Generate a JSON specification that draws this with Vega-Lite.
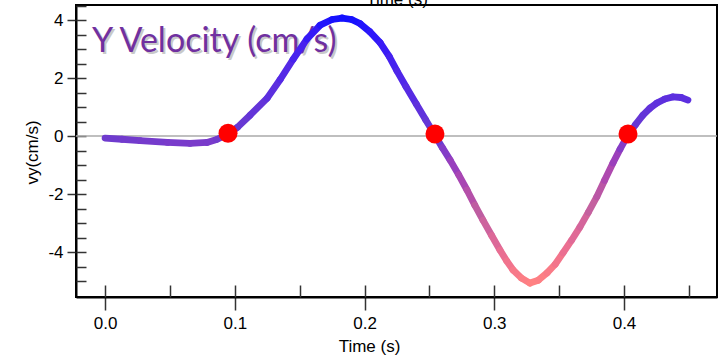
{
  "$schema": "https://vega.github.io/schema/vega-lite/v6.json",
  "autosize": "none",
  "width": 641,
  "height": 292,
  "padding": {"left": 76, "top": 5, "right": 8, "bottom": 61},
  "background": "white",
  "view": {"stroke": "black", "strokeWidth": 2},
  "datasets": {
    "curve": [
      {"t": 0, "vy": -0.07}, {"t": 0.013, "vy": -0.11}, {"t": 0.027, "vy": -0.16}, {"t": 0.048, "vy": -0.22},
      {"t": 0.0655, "vy": -0.25}, {"t": 0.0786, "vy": -0.22}, {"t": 0.086, "vy": -0.12}, {"t": 0.094, "vy": 0.05},
      {"t": 0.102, "vy": 0.3}, {"t": 0.1118, "vy": 0.72}, {"t": 0.125, "vy": 1.31}, {"t": 0.135, "vy": 1.95},
      {"t": 0.145, "vy": 2.65}, {"t": 0.1557, "vy": 3.35}, {"t": 0.1657, "vy": 3.82}, {"t": 0.175, "vy": 4.02},
      {"t": 0.1827, "vy": 4.07}, {"t": 0.19, "vy": 4.02}, {"t": 0.1965, "vy": 3.88}, {"t": 0.204, "vy": 3.6},
      {"t": 0.212, "vy": 3.22}, {"t": 0.219, "vy": 2.75}, {"t": 0.225, "vy": 2.25}, {"t": 0.232, "vy": 1.7},
      {"t": 0.24, "vy": 1.1}, {"t": 0.247, "vy": 0.57}, {"t": 0.2543, "vy": 0.03}, {"t": 0.26, "vy": -0.4},
      {"t": 0.266, "vy": -0.83}, {"t": 0.2725, "vy": -1.33}, {"t": 0.279, "vy": -1.86}, {"t": 0.285, "vy": -2.38},
      {"t": 0.2913, "vy": -2.9}, {"t": 0.298, "vy": -3.43}, {"t": 0.3044, "vy": -3.93}, {"t": 0.3095, "vy": -4.3},
      {"t": 0.3145, "vy": -4.62}, {"t": 0.321, "vy": -4.9}, {"t": 0.3275, "vy": -5.07}, {"t": 0.334, "vy": -4.97},
      {"t": 0.3407, "vy": -4.72}, {"t": 0.347, "vy": -4.42}, {"t": 0.353, "vy": -4.03}, {"t": 0.3595, "vy": -3.6},
      {"t": 0.366, "vy": -3.14}, {"t": 0.3725, "vy": -2.63}, {"t": 0.379, "vy": -2.1}, {"t": 0.385, "vy": -1.53},
      {"t": 0.3915, "vy": -0.93}, {"t": 0.397, "vy": -0.45}, {"t": 0.403, "vy": 0.03}, {"t": 0.409, "vy": 0.4},
      {"t": 0.4146, "vy": 0.72}, {"t": 0.42, "vy": 0.96}, {"t": 0.4254, "vy": 1.14}, {"t": 0.4315, "vy": 1.28},
      {"t": 0.4378, "vy": 1.35}, {"t": 0.444, "vy": 1.33}, {"t": 0.4493, "vy": 1.24}
    ],
    "zeros": [
      {"t": 0.0948, "vy": 0.1}, {"t": 0.2543, "vy": 0.07}, {"t": 0.4031, "vy": 0.07}
    ],
    "label": [
      {"text": "Y Velocity (cm/s)", "t": -0.01, "vy": 2.9}
    ],
    "baseline": [
      {"vy": 0}
    ]
  },
  "resolve": {"axis": {"x": "independent", "y": "independent"}},
  "layer": [
    {
      "data": {"name": "baseline"},
      "mark": {"type": "rule", "color": "#aaaaaa", "strokeWidth": 1.5},
      "encoding": {
        "y": {"field": "vy", "type": "quantitative", "axis": null}
      }
    },
    {
      "data": {"name": "label"},
      "mark": {"type": "text", "font": "Lato", "fontSize": 34, "align": "left", "baseline": "alphabetic", "color": "#888888", "opacity": 0.45, "dx": 2, "dy": 2},
      "encoding": {
        "text": {"field": "text"},
        "x": {"field": "t", "type": "quantitative", "axis": null},
        "y": {"field": "vy", "type": "quantitative", "axis": null}
      }
    },
    {
      "data": {"name": "label"},
      "mark": {"type": "text", "font": "Lato", "fontSize": 34, "align": "left", "baseline": "alphabetic", "color": "#7030a0"},
      "encoding": {
        "text": {"field": "text"},
        "x": {
          "field": "t", "type": "quantitative",
          "axis": {
            "orient": "top", "labels": false, "ticks": false, "domain": false, "grid": false,
            "title": "Time (s)", "titleFont": "Liberation Sans", "titleFontSize": 17, "titleFontWeight": "normal",
            "titleColor": "black", "titleBaseline": "alphabetic", "titleY": -1
          }
        },
        "y": {"field": "vy", "type": "quantitative", "axis": null}
      }
    },
    {
      "data": {"name": "curve"},
      "transform": [
        {"window": [{"op": "lead", "field": "t", "as": "t2"}, {"op": "lead", "field": "vy", "as": "vy2"}], "sort": [{"field": "t"}]},
        {"filter": "datum.t2 != null"}
      ],
      "mark": {"type": "rule", "strokeWidth": 6.8, "strokeCap": "round"},
      "encoding": {
        "x": {
          "field": "t", "type": "quantitative",
          "scale": {"domain": [-0.0224, 0.4717], "nice": false, "zero": false},
          "axis": {
            "orient": "bottom", "values": [0, 0.1, 0.2, 0.3, 0.4], "format": ".1f", "grid": false,
            "tickSize": 13, "tickColor": "#333333", "tickWidth": 1.5,
            "domain": true, "domainColor": "black", "domainWidth": 2,
            "labelFont": "Liberation Sans", "labelFontSize": 17, "labelColor": "black",
            "labelBaseline": "alphabetic", "labelPadding": 18,
            "title": "Time (s)", "titleFont": "Liberation Sans", "titleFontSize": 17, "titleFontWeight": "normal",
            "titleColor": "black", "titleX": 293, "titleY": 54, "titleBaseline": "alphabetic"
          }
        },
        "x2": {"field": "t2"},
        "y": {
          "field": "vy", "type": "quantitative",
          "scale": {"domain": [-5.55, 4.52], "nice": false, "zero": false},
          "axis": {
            "orient": "left", "values": [-4, -2, 0, 2, 4], "grid": false,
            "labelExpr": "replace(datum.label, '\u2212', '-')",
            "tickSize": 9, "tickColor": "#333333", "tickWidth": 1.5,
            "domain": true, "domainColor": "black", "domainWidth": 2,
            "labelFont": "Liberation Sans", "labelFontSize": 17, "labelColor": "black", "labelPadding": 4,
            "title": "vy(cm/s)", "titleFont": "Liberation Sans", "titleFontSize": 17, "titleFontWeight": "normal",
            "titleColor": "black", "titleX": -39, "titleY": 147, "titleBaseline": "alphabetic", "titleAngle": 270
          }
        },
        "y2": {"field": "vy2"},
        "color": {
          "field": "vy", "type": "quantitative", "legend": null,
          "scale": {"domain": [-5.1, -2.5, 0, 4.1], "range": ["#ff8282", "#c060a0", "#6a3bd0", "#1010ff"]}
        }
      }
    },
    {
      "data": {"name": "zeros"},
      "mark": {"type": "circle", "size": 360, "color": "#ff0000", "opacity": 1},
      "encoding": {
        "x": {
          "field": "t", "type": "quantitative",
          "scale": {"domain": [-0.0224, 0.4717], "nice": false, "zero": false},
          "axis": {
            "orient": "bottom", "values": [0, 0.05, 0.1, 0.15, 0.2, 0.25, 0.3, 0.35, 0.4, 0.45],
            "grid": false, "labels": false, "domain": false, "title": null,
            "tickSize": -12, "tickColor": "#333333", "tickWidth": 1.5
          }
        },
        "y": {
          "field": "vy", "type": "quantitative",
          "scale": {"domain": [-5.55, 4.52], "nice": false, "zero": false},
          "axis": {
            "orient": "left", "values": [-5, -4.5, -4, -3.5, -3, -2.5, -2, -1.5, -1, -0.5, 0, 0.5, 1, 1.5, 2, 2.5, 3, 3.5, 4, 4.5],
            "grid": false, "labels": false, "domain": false, "title": null,
            "tickSize": -10, "tickColor": "#333333", "tickWidth": 1.5
          }
        }
      }
    }
  ]
}
